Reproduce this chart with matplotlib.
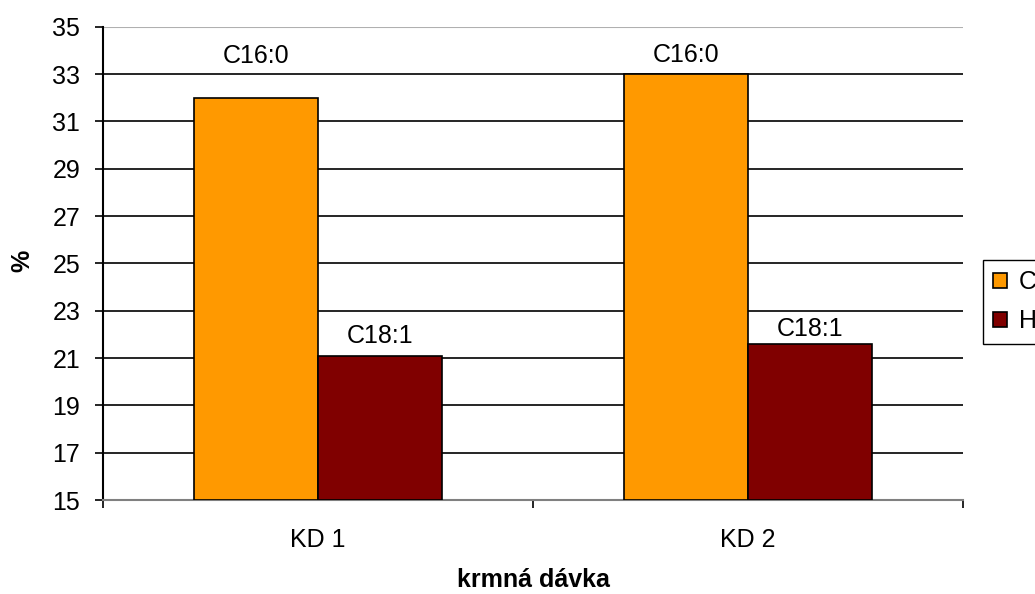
import matplotlib
matplotlib.use("Agg")
import matplotlib.pyplot as plt
import numpy as np

plt.rcParams['font.family'] = ['Liberation Sans', 'DejaVu Sans']

categories = ["KD 1", "KD 2"]
series_names = ["C16:0", "C18:1"]
legend_labels = ["C16:0", "HUFA"]
c16_values = [32.0, 33.0]
c18_values = [21.1, 21.6]
y_ticks = [15, 17, 19, 21, 23, 25, 27, 29, 31, 33, 35]

colors = ["#FF9900", "#800000"]
FS = 18

fig = plt.figure(figsize=(10.35, 5.94), dpi=100)
ax = fig.add_axes([103/1035, 1 - 500/594, 860/1035, (500 - 26.7)/594])

x = np.arange(len(categories))
w = 0.288
base = y_ticks[0]
bars1 = ax.bar(x - w/2, np.array(c16_values) - base, w, bottom=base, color=colors[0],
               edgecolor="black", linewidth=1.2, zorder=3, label=legend_labels[0])
bars2 = ax.bar(x + w/2, np.array(c18_values) - base, w, bottom=base, color=colors[1],
               edgecolor="black", linewidth=1.2, zorder=3, label=legend_labels[1])

# label offsets above bar tops, in points (label centre)
label_offsets = {series_names[0]: [30, 14], series_names[1]: [14, 11]}
for bars, name in ((bars1, series_names[0]), (bars2, series_names[1])):
    for b, off in zip(bars, label_offsets[name]):
        ax.annotate(name, (b.get_x() + b.get_width()/2, b.get_y() + b.get_height()),
                    xytext=(0, off), textcoords="offset points", ha="center",
                    va="center", fontsize=FS)

ax.set_xlim(-0.5, 1.5)
ax.set_ylim(15, 35)
ax.set_yticks(y_ticks)
ax.set_yticklabels([str(t) for t in y_ticks], fontsize=FS)
ax.set_xticks(x)
ax.set_xticklabels(categories, fontsize=FS)
ax.set_xticks([-0.5, 0.5, 1.5], minor=True)
ax.tick_params(axis="x", which="major", length=0, pad=20)
ax.tick_params(axis="x", which="minor", length=5.8, width=1.2, direction="out")
ax.tick_params(axis="y", length=5.8, width=1.2, direction="out", pad=10.5)

for t in y_ticks[1:-1]:
    ax.axhline(t, color="black", linewidth=1.2, zorder=1)
ax.axhline(35, color="#b0b0b0", linewidth=1.5, zorder=1)

for s in ("top", "right"):
    ax.spines[s].set_visible(False)
ax.spines["left"].set_linewidth(1.5)
ax.spines["bottom"].set_linewidth(1.5)
ax.spines["bottom"].set_color("#808080")

fig.text(22/1035, 1 - 261/594, "%", fontsize=FS, fontweight="bold",
         rotation=90, ha="center", va="center")
fig.text(533/1035, 1 - 580/594, "krmná dávka", fontsize=FS, fontweight="bold",
         ha="center", va="center")

fig.legend(loc="upper left", bbox_to_anchor=(983/1035, 1 - 260/594), fontsize=FS,
           frameon=True, fancybox=False, edgecolor="black", handlelength=0.55,
           handleheight=0.55, handletextpad=0.5, borderpad=0.4, labelspacing=0.62,
           borderaxespad=0, framealpha=1)

fig.savefig("out.png", dpi=100)
